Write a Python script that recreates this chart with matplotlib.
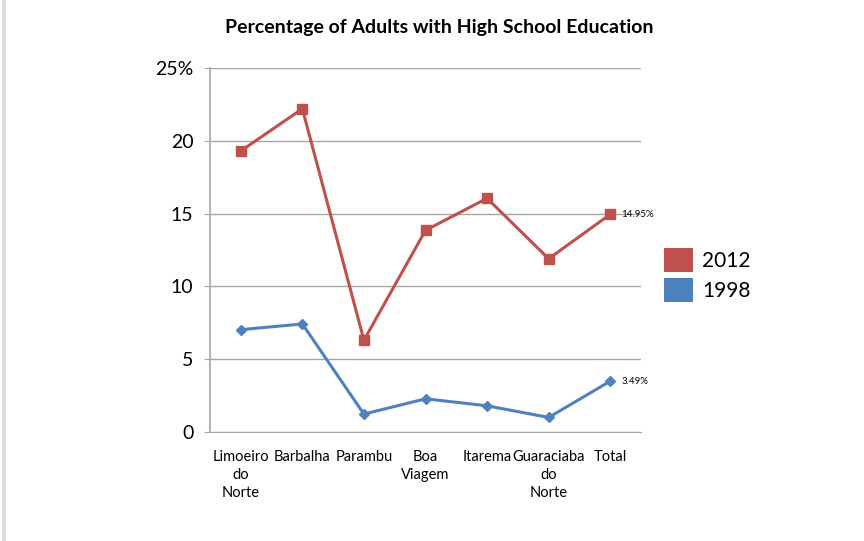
import matplotlib.pyplot as plt
from matplotlib.patches import Patch, Rectangle

plt.rcParams['font.family'] = ['Lato', 'DejaVu Sans']

categories = ['Limoeiro\ndo\nNorte', 'Barbalha', 'Parambu', 'Boa\nViagem',
              'Itarema', 'Guaraciaba\ndo\nNorte', 'Total']
y2012 = [19.3, 22.2, 6.3, 13.85, 16.05, 11.9, 14.95]
y1998 = [7.03, 7.42, 1.23, 2.28, 1.8, 1.0, 3.49]
ytick_vals = [0, 5, 10, 15, 20, 25]
ytick_labels = ['0', '5', '10', '15', '20', '25%']

red = '#C0504D'
blue = '#4F81BD'

fig = plt.figure(figsize=(8.64, 5.41), dpi=100)
ax = fig.add_axes([210 / 864, 1 - 432 / 541, 431 / 864, 364 / 541])

x = range(len(categories))
ax.plot(x, y2012, color=red, lw=2.2, marker='s', ms=7, zorder=3)
ax.plot(x, y1998, color=blue, lw=2.2, marker='D', ms=5, zorder=3)

# end labels
ax.annotate(f'{y2012[-1]:.2f}%', (x[-1], y2012[-1]), xytext=(8, 0),
            textcoords='offset points', va='center', fontsize=7)
ax.annotate(f'{y1998[-1]:.2f}%', (x[-1], y1998[-1]), xytext=(8, 0),
            textcoords='offset points', va='center', fontsize=7)

ax.set_xlim(-0.5, len(categories) - 0.5)
ax.set_ylim(0, 25)
ax.set_yticks(ytick_vals)
ax.set_yticklabels(ytick_labels, fontsize=14)
ax.set_xticks(list(x))
ax.set_xticklabels(categories, fontsize=10.5, linespacing=1.35)
ax.tick_params(axis='x', length=0, pad=13)
ax.tick_params(axis='y', length=4, color='#A6A6A6', pad=8)
ax.yaxis.grid(True, color='#A6A6A6', lw=1)
ax.set_axisbelow(True)
for side in ['top', 'right']:
    ax.spines[side].set_visible(False)
ax.spines['left'].set_color('#A6A6A6')
ax.spines['bottom'].set_color('#A6A6A6')
ax.spines['left'].set_linewidth(1.2)

fig.text(439 / 864, 1 - 28 / 541, 'Percentage of Adults with High School Education',
         ha='center', va='center', fontsize=14, fontweight='bold')

handles = [Patch(facecolor=red, edgecolor='none'), Patch(facecolor=blue, edgecolor='none')]
leg = fig.legend(handles, ['2012', '1998'], loc='center left',
                 bbox_to_anchor=(645 / 864, 1 - 275 / 541), frameon=False,
                 fontsize=15, handlelength=1.4, handleheight=1.4,
                 handletextpad=0.45, labelspacing=0.25)

# slide frame edge on the left
fig.patches.append(Rectangle((2 / 864, 0), 4 / 864, 1, transform=fig.transFigure,
                             facecolor='#DDDDDD', edgecolor='none', zorder=0))

fig.savefig('out.png', dpi=100)
